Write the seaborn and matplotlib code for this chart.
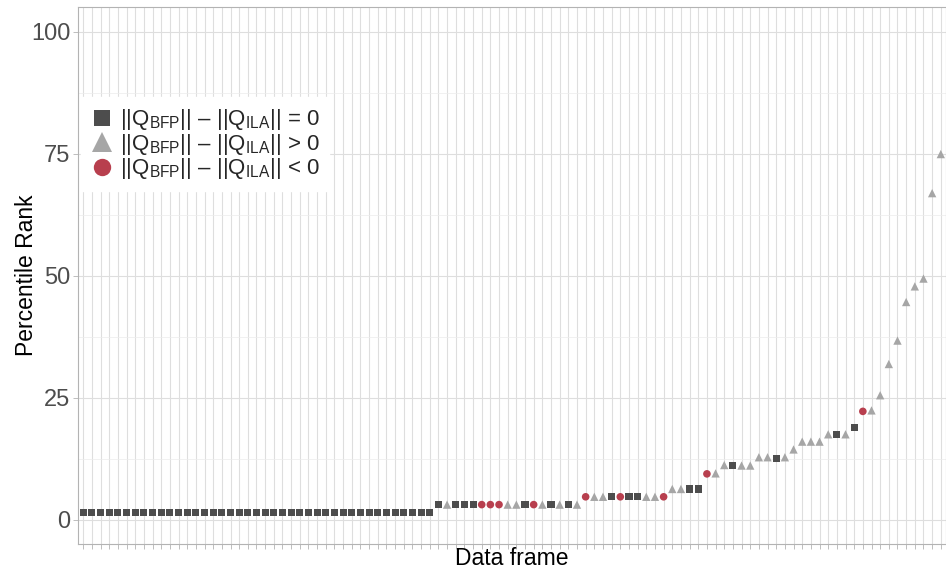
import numpy as np
import pandas as pd
import matplotlib
matplotlib.use("Agg")
import matplotlib.pyplot as plt
import seaborn as sns
from matplotlib.lines import Line2D

# values (sorted frames, left to right)
frame_ids = [f"df{i:03d}" for i in range(1, 101)]

percentile_rank = (
    [1.4] * 41
    + [3.1] * 17
    + [4.7] * 10
    + [6.3, 6.3, 6.3, 6.3]
    + [9.4, 9.5, 11.2, 11.1, 11.1, 11.1, 12.8, 12.8, 12.6, 12.8,
       14.4, 16.0, 16.0, 16.0, 17.5, 17.4, 17.5, 18.9, 22.2, 22.4,
       25.5, 31.9, 36.7, 44.6, 47.8, 49.4, 66.9, 74.9]
)

# eq: ||Q_BFP|| - ||Q_ILA|| = 0, gt: > 0, lt: < 0
diff_sign = (
    ["eq"] * 41
    + ["eq", "gt", "eq", "eq", "eq", "lt", "lt", "lt", "gt", "gt",
       "eq", "lt", "gt", "eq", "gt", "eq", "gt"]
    + ["lt", "gt", "gt", "eq", "lt", "eq", "eq", "gt", "gt", "lt"]
    + ["gt", "gt", "eq", "eq"]
    + ["lt", "gt", "gt", "eq", "gt", "gt", "gt", "gt", "eq", "gt",
       "gt", "gt", "gt", "gt", "gt", "eq", "gt", "eq", "lt", "gt",
       "gt", "gt", "gt", "gt", "gt", "gt", "gt", "gt"]
)

group_order = ["eq", "gt", "lt"]
group_labels = [
    "||Q$_{BFP}$|| \u2013 ||Q$_{ILA}$|| = 0",
    "||Q$_{BFP}$|| \u2013 ||Q$_{ILA}$|| > 0",
    "||Q$_{BFP}$|| \u2013 ||Q$_{ILA}$|| < 0",
]
palette = {"eq": "#4d4d4d", "gt": "#a6a6a6", "lt": "#b83f4e"}
markers = {"eq": "s", "gt": "^", "lt": "o"}
sizes = {"eq": 26, "gt": 36, "lt": 30}

df = pd.DataFrame({"frame": frame_ids, "rank": percentile_rank, "sign": diff_sign})
df["frame"] = pd.Categorical(df["frame"], categories=frame_ids, ordered=True)

sns.set_theme(style="white")
plt.rcParams["font.family"] = ["Liberation Sans", "DejaVu Sans"]
plt.rcParams["mathtext.fontset"] = "custom"
plt.rcParams["mathtext.rm"] = "Liberation Sans"
plt.rcParams["mathtext.default"] = "regular"

fig = plt.figure(figsize=(9.46, 5.71), dpi=100)
ax = fig.add_axes([0.0825, 0.047, 0.9175, 0.9405])

sns.scatterplot(data=df, x="frame", y="rank", hue="sign", style="sign", size="sign",
                hue_order=group_order, style_order=group_order, size_order=group_order,
                palette=palette, markers=markers, sizes=sizes,
                linewidth=0, ax=ax, legend=False, zorder=3)

ax.set_xlim(-0.6, len(frame_ids) - 0.4)
ax.set_ylim(-5, 105)
ax.set_xticks(range(len(frame_ids)))
ax.set_xticklabels([])
ax.set_yticks([0, 25, 50, 75, 100])
ax.set_yticks([12.5, 37.5, 62.5, 87.5], minor=True)

ax.grid(True, which="major", axis="both", color="#dedede", linewidth=0.8)
ax.grid(True, which="minor", axis="y", color="#ececec", linewidth=0.5)
ax.set_axisbelow(True)

for sp in ax.spines.values():
    sp.set_color("#b3b3b3")
    sp.set_linewidth(0.8)

ax.tick_params(axis="both", which="major", length=3.5, width=0.6, color="#b3b3b3",
               labelsize=17, labelcolor="#4d4d4d", pad=2, bottom=True, left=True)
ax.tick_params(axis="both", which="minor", length=0)

ax.set_xlabel("Data frame", fontsize=16.5, color="black", va="center")
ax.xaxis.set_label_coords(0.5, -0.026)
ax.set_ylabel("Percentile Rank", fontsize=16.5, color="black", va="center")
ax.yaxis.set_label_coords(-0.059, 0.5)

handles = [
    Line2D([], [], linestyle="none", marker=markers[g], color=palette[g],
           markersize={"eq": 12, "gt": 15, "lt": 12.5}[g], markeredgewidth=0)
    for g in group_order
]
leg = ax.legend(handles, group_labels, loc="upper left", bbox_to_anchor=(0.003, 0.832),
                frameon=True, fontsize=16, handlelength=1.0, handletextpad=0.3,
                labelspacing=-0.02, borderpad=0.45, borderaxespad=0.0)
leg.get_frame().set_facecolor("white")
leg.get_frame().set_edgecolor("white")
leg.get_frame().set_alpha(1)
leg.get_frame().set_boxstyle("square", pad=0)
leg.set_zorder(5)

fig.savefig("out.png", dpi=100)
